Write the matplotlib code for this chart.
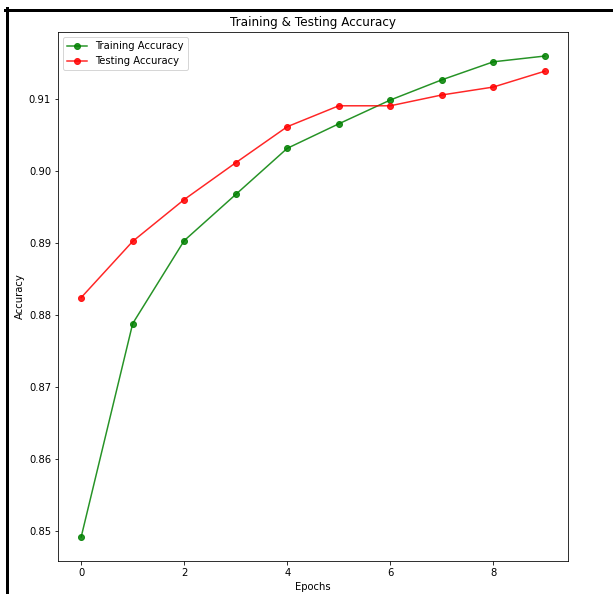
import matplotlib
matplotlib.use("Agg")
from matplotlib import pyplot as plt
from matplotlib.lines import Line2D

epochs = list(range(10))
train_acc = [0.8492, 0.8788, 0.8903, 0.8967, 0.9031, 0.9065, 0.9098, 0.9126, 0.9151, 0.9159]
test_acc = [0.8824, 0.8902, 0.8960, 0.9011, 0.9061, 0.9090, 0.9090, 0.9105, 0.9116, 0.9138]

W, H, DPI = 613, 594, 72
fig = plt.figure(figsize=(W / DPI, H / DPI), dpi=DPI)
ax = fig.add_axes([58 / W, 1 - 561 / H, 510 / W, 529 / H])

ax.plot(epochs, train_acc, "go-", label="Training Accuracy", alpha=0.85)
ax.plot(epochs, test_acc, "ro-", label="Testing Accuracy", alpha=0.85)
ax.set_title("Training & Testing Accuracy")
ax.set_xlabel("Epochs")
ax.set_ylabel("Accuracy")
ax.legend(loc="upper left")

# black frame around the screenshot (left and top edges)
lw = 3 * 72 / DPI
fig.add_artist(Line2D([6.5 / W, 6.5 / W], [0, 1 - 8 / H], color="k", lw=lw,
                      transform=fig.transFigure))
fig.add_artist(Line2D([5 / W, 1], [1 - 9.5 / H, 1 - 9.5 / H], color="k", lw=lw,
                      transform=fig.transFigure))

fig.savefig("out.png", dpi=DPI)
